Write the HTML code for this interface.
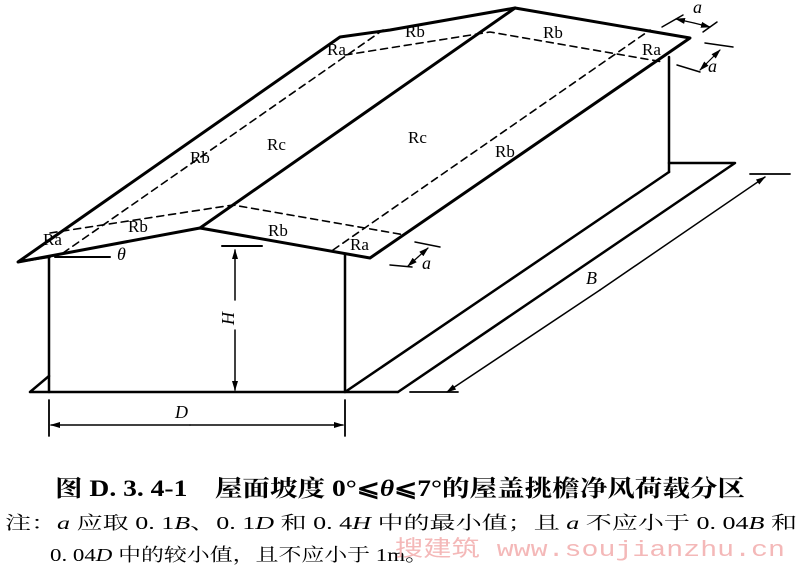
<!DOCTYPE html>
<html><head><meta charset="utf-8"><style>
body{margin:0;background:#fff;width:800px;height:577px;overflow:hidden}
svg{position:absolute;left:0;top:0}
</style></head><body>
<svg width="800" height="577" viewBox="0 0 800 577" xmlns="http://www.w3.org/2000/svg" font-family="Liberation Serif, serif">
<defs><marker id="ar" markerWidth="10" markerHeight="8" refX="9" refY="4" orient="auto" markerUnits="userSpaceOnUse"><path d="M0,1 L10,4 L0,7 Z" fill="#000"/></marker></defs>
<g stroke="#000" fill="none" stroke-linecap="round" stroke-linejoin="round">
<path d="M18,262 L340,37 L390,30 L515,8 L690,38 L370,258 L200,228 Z" stroke-width="3"/>
<path d="M200,228 L515,8" stroke-width="3"/>
<path d="M18,262 L50,257" stroke-width="2"/>
<path d="M49,257 L49,392 M345,254 L345,392 M669,57 L669,172" stroke-width="2.5"/>
<path d="M30,392 L398,392 M345,392 L669,172 M669,163 L735,163 L398,392 M30,392 L49,376" stroke-width="2.5"/>
<path d="M55,257 L110,257" stroke-width="2"/>
<g stroke-width="1.6" stroke-dasharray="7,5">
<path d="M63,253 L383,30"/>
<path d="M333,250 L650,30"/>
<path d="M50,233 L233,205 L405,235"/>
<path d="M345,55 L490,32 L663,62"/>
</g>
<path d="M222,246 L262,246" stroke-width="2"/>
<path d="M235,300 L235,250" stroke-width="1.5" marker-end="url(#ar)"/>
<path d="M235,330 L235,390" stroke-width="1.5" marker-end="url(#ar)"/>
<path d="M49,400 L49,436 M345,400 L345,436" stroke-width="1.8"/>
<path d="M190,425 L51,425" stroke-width="1.5" marker-end="url(#ar)"/>
<path d="M190,425 L343,425" stroke-width="1.5" marker-end="url(#ar)"/>
<path d="M410,392 L458,392 M750,174 L790,174" stroke-width="1.8"/>
<path d="M600,290 L447,392" stroke-width="1.5" marker-end="url(#ar)"/>
<path d="M600,290 L765,177" stroke-width="1.5" marker-end="url(#ar)"/>
<path d="M662,27 L683,15 M703,32 L717,22" stroke-width="1.5"/>
<path d="M694,23 L676,19" stroke-width="1.2" marker-end="url(#ar)"/>
<path d="M694,23 L710,27" stroke-width="1.2" marker-end="url(#ar)"/>
<path d="M705,43 L733,47 M677,65 L700,72" stroke-width="1.5"/>
<path d="M710,60 L720,50" stroke-width="1.2" marker-end="url(#ar)"/>
<path d="M710,60 L700,70" stroke-width="1.2" marker-end="url(#ar)"/>
<path d="M415,242 L440,247 M390,265 L412,267" stroke-width="1.5"/>
<path d="M418,257 L428,248" stroke-width="1.2" marker-end="url(#ar)"/>
<path d="M418,257 L408,266" stroke-width="1.2" marker-end="url(#ar)"/>
</g>
<g font-size="17" fill="#000">
<text x="327" y="55">Ra</text><text x="43" y="245">Ra</text><text x="642" y="55">Ra</text><text x="350" y="250">Ra</text>
<text x="405" y="37">Rb</text><text x="543" y="38">Rb</text><text x="190" y="163">Rb</text><text x="128" y="232">Rb</text><text x="268" y="236">Rb</text><text x="495" y="157">Rb</text>
<text x="267" y="150">Rc</text><text x="408" y="143">Rc</text>
</g>
<g font-size="18" font-style="italic" fill="#000">
<text x="117" y="260">θ</text>
<text x="175" y="418">D</text>
<text x="586" y="284">B</text>
<text x="693" y="13">a</text><text x="708" y="72">a</text><text x="422" y="269">a</text>
<text transform="translate(234,325) rotate(-90)">H</text>
</g>
<g font-family="Liberation Serif, 'Noto Serif CJK SC', serif" fill="#000">
<text x="55" y="496" font-size="23" font-weight="bold" textLength="690" lengthAdjust="spacingAndGlyphs">图 D. 3. 4-1　屋面坡度 0°⩽<tspan font-style="italic">θ</tspan>⩽7°的屋盖挑檐净风荷载分区</text>
<text x="5" y="529" font-size="18" textLength="792" lengthAdjust="spacingAndGlyphs">注：<tspan font-style="italic">a</tspan> 应取 0. 1<tspan font-style="italic">B</tspan>、0. 1<tspan font-style="italic">D</tspan> 和 0. 4<tspan font-style="italic">H</tspan> 中的最小值；且 <tspan font-style="italic">a</tspan> 不应小于 0. 04<tspan font-style="italic">B</tspan> 和</text>
<text x="50" y="561" font-size="18" textLength="378" lengthAdjust="spacingAndGlyphs">0. 04<tspan font-style="italic">D</tspan> 中的较小值，且不应小于 1m。</text>
</g>
<text x="395" y="556" font-size="22" fill="#f4b8b8" font-family="'Liberation Mono','Noto Sans CJK SC',monospace" textLength="390" lengthAdjust="spacingAndGlyphs">搜建筑 www.soujianzhu.cn</text>
</svg>
</body></html>
